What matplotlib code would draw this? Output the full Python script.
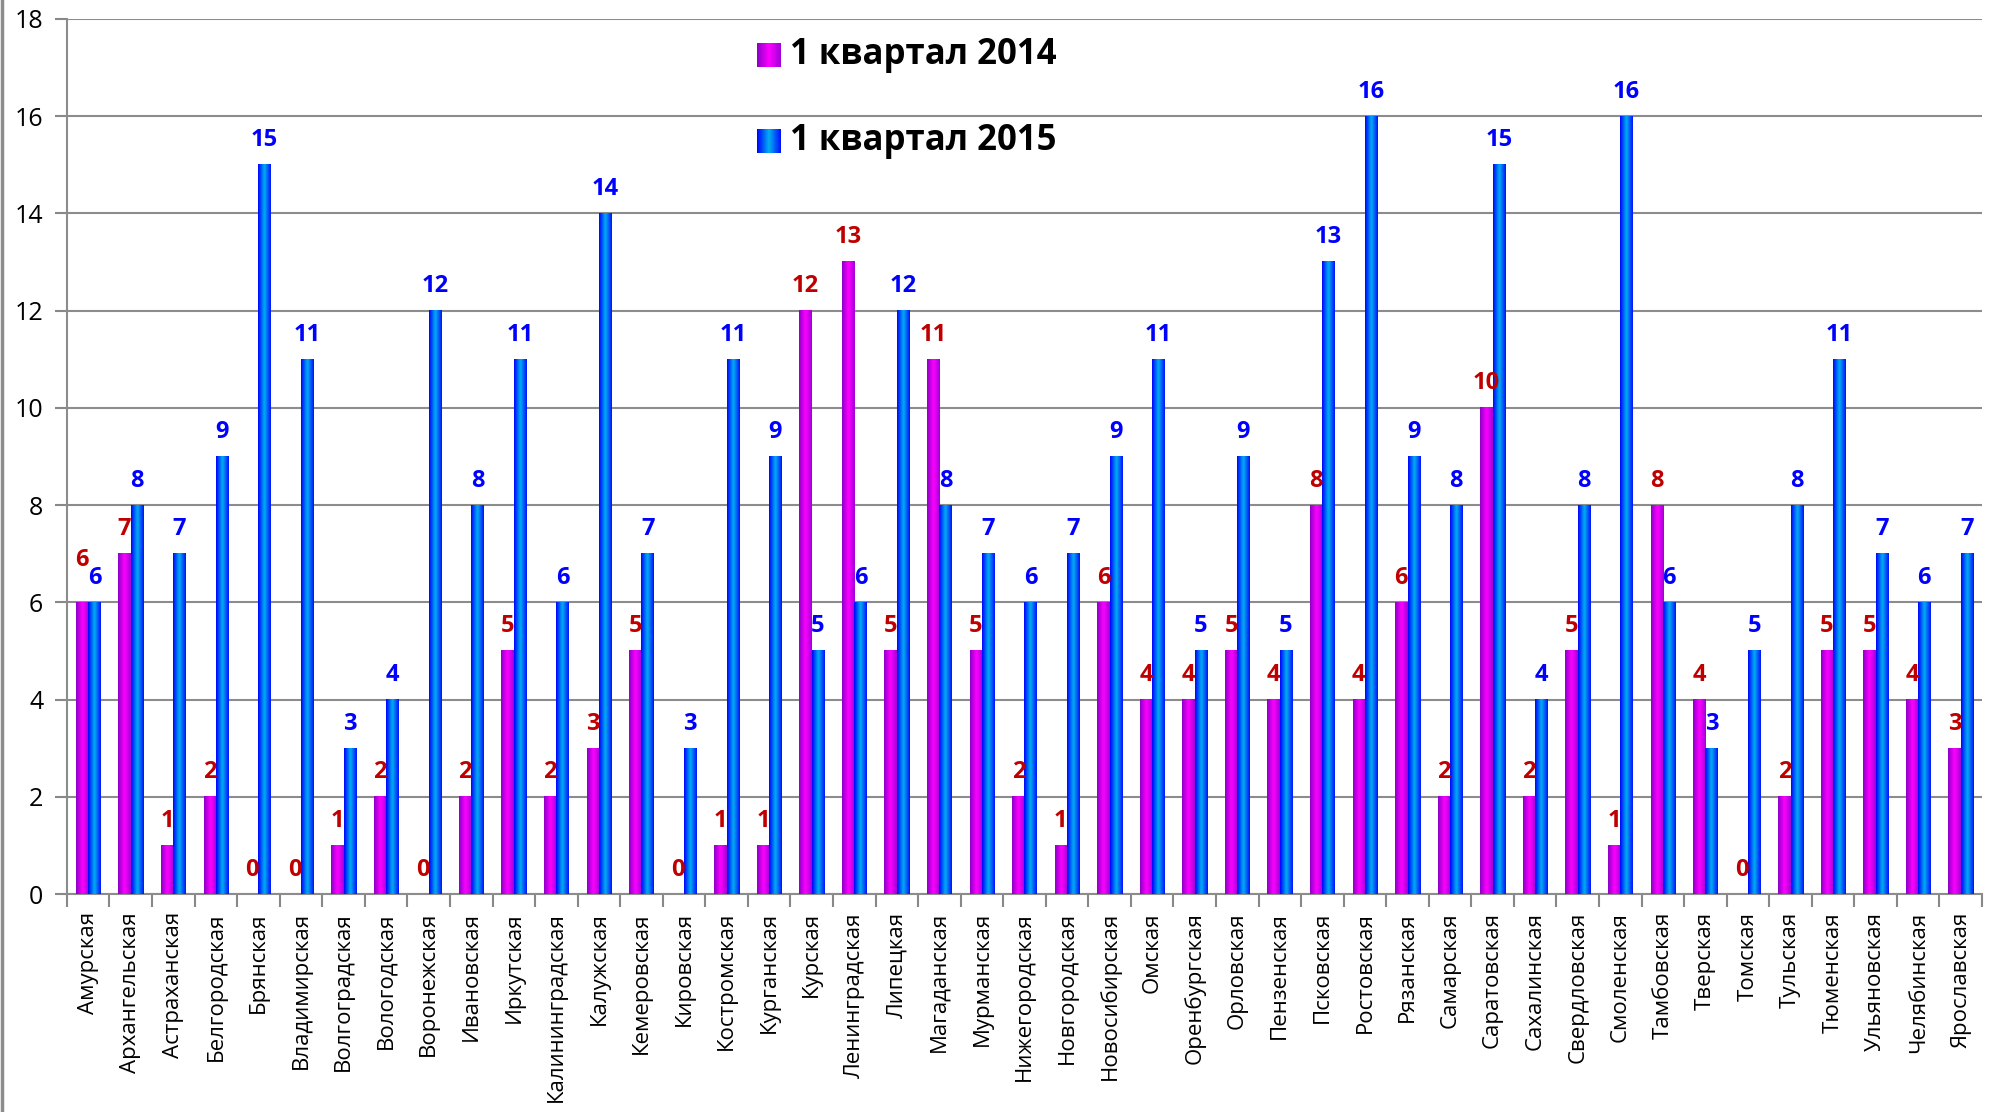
#!/usr/bin/env python3
"""
Regional counts, 1st quarter 2014 vs 2015
"""

import matplotlib
matplotlib.use("Agg")
import matplotlib.pyplot as plt
import numpy as np
from matplotlib.colors import LinearSegmentedColormap
from matplotlib.lines import Line2D

plt.rcParams['font.family'] = ['Open Sans', 'DejaVu Sans']

regions = [
    "Амурская", "Архангельская", "Астраханская", "Белгородская", "Брянская",
    "Владимирская", "Волгоградская", "Вологодская", "Воронежская", "Ивановская",
    "Иркутская", "Калининградская", "Калужская", "Кемеровская", "Кировская",
    "Костромская", "Курганская", "Курская", "Ленинградская", "Липецкая",
    "Магаданская", "Мурманская", "Нижегородская", "Новгородская", "Новосибирская",
    "Омская", "Оренбургская", "Орловская", "Пензенская", "Псковская",
    "Ростовская", "Рязанская", "Самарская", "Саратовская", "Сахалинская",
    "Свердловская", "Смоленская", "Тамбовская", "Тверская", "Томская",
    "Тульская", "Тюменская", "Ульяновская", "Челябинская", "Ярославская",
]
q1_2014 = [6, 7, 1, 2, 0, 0, 1, 2, 0, 2, 5, 2, 3, 5, 0, 1, 1, 12, 13, 5,
           11, 5, 2, 1, 6, 4, 4, 5, 4, 8, 4, 6, 2, 10, 2, 5, 1, 8, 4, 0,
           2, 5, 5, 4, 3]
q1_2015 = [6, 8, 7, 9, 15, 11, 3, 4, 12, 8, 11, 6, 14, 7, 3, 11, 9, 5, 6, 12,
           8, 7, 6, 7, 9, 11, 5, 9, 5, 13, 16, 9, 8, 15, 4, 8, 16, 6, 3, 5,
           8, 11, 7, 6, 7]
series_names = ["1 квартал 2014", "1 квартал 2015"]

cmap_mag = LinearSegmentedColormap.from_list("mag", ["#8a00c8", "#ff00ff", "#a000d8"])
cmap_blue = LinearSegmentedColormap.from_list("blu", ["#0000ff", "#00b0f0", "#0010ff"])
grad = np.linspace(0, 1, 64).reshape(1, -1)


def gradient_bar(ax, x0, w, h, cmap):
    if h <= 0:
        return
    ax.imshow(grad, cmap=cmap, extent=[x0, x0 + w, 0, h], aspect='auto',
              interpolation='bicubic', zorder=3)


fig = plt.figure(figsize=(19.92, 11.12), dpi=100)
ax = fig.add_axes([0.0336, 0.196, 0.9614, 0.787])

n = len(regions)
bw = 0.29
for i in range(n):
    left = i + 0.5 - bw
    gradient_bar(ax, left, bw, q1_2014[i], cmap_mag)
    gradient_bar(ax, left + bw, bw, q1_2015[i], cmap_blue)
    # lift the red label when both labels would sit at the same height
    lift = 22 if q1_2014[i] == q1_2015[i] else 9
    ax.annotate(str(q1_2014[i]), (left + bw / 2, q1_2014[i]), xytext=(0, lift),
                textcoords='offset points', ha='center', va='bottom',
                color='#c00000', fontsize=17, fontweight='bold', zorder=5)
    ax.annotate(str(q1_2015[i]), (left + 1.5 * bw, q1_2015[i]), xytext=(0, 9),
                textcoords='offset points', ha='center', va='bottom',
                color='#0000ff', fontsize=17, fontweight='bold', zorder=5)

ax.set_xlim(0, n)
ax.set_ylim(0, 18)
ax.set_yticks(np.arange(0, 19, 2))
ax.tick_params(axis='y', labelsize=18, length=9, width=1.5, color='#888888', pad=8)
ax.set_xticks(np.arange(0, n + 1))
ax.set_xticklabels([])
ax.set_xticks(np.arange(n) + 0.5, minor=True)
ax.set_xticklabels(regions, minor=True, rotation=90, fontsize=16)
ax.tick_params(axis='x', which='major', length=9, width=1.5, color='#888888')
ax.tick_params(axis='x', which='minor', length=0, pad=13)
ax.grid(axis='y', color='#8c8c8c', linewidth=1.5, zorder=0)
ax.set_axisbelow(True)
for side in ['top', 'right']:
    ax.spines[side].set_visible(False)
for side in ['left', 'bottom']:
    ax.spines[side].set_color('#8c8c8c')
    ax.spines[side].set_linewidth(1.5)

# legend drawn by hand so the swatches keep their gradients
for k, (name, cmap) in enumerate(zip(series_names, [cmap_mag, cmap_blue])):
    yc = 1 - (55 + 86 * k) / 1112
    sw = fig.add_axes([757 / 1992, yc - 12 / 1112, 24 / 1992, 24 / 1112])
    sw.imshow(grad, cmap=cmap, aspect='auto')
    sw.axis('off')
    fig.text(790 / 1992, yc, name, fontsize=25, fontweight='bold',
             va='center', ha='left')

fig.add_artist(Line2D([0.001, 0.001], [0, 1], transform=fig.transFigure,
                      color='#8c8c8c', linewidth=2.5))

fig.savefig("out.png", dpi=100)
